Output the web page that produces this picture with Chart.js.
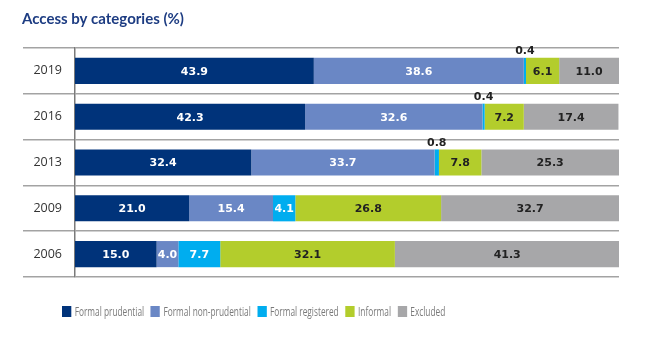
<!DOCTYPE html>
<html>
<head>
<meta charset="utf-8">
<script src="https://cdn.jsdelivr.net/npm/chart.js@4"></script>
<style>
  body { margin: 0; background: #fff; }
  #wrap { position: relative; width: 650px; height: 338px; }
  #legend {
    position: absolute; left: 62px; top: 303px;
    display: flex; align-items: center; white-space: nowrap;
    font: 12.5px "Open Sans", sans-serif; color: #7a7a7a;
    transform: scaleX(0.665); transform-origin: left center;
  }
  #legend span.item { display: flex; align-items: center; margin-right: 10px; }
  #legend span.box { width: 14px; height: 11px; margin-right: 5px; display: inline-block; }
</style>
</head>
<body>
<div id="wrap">
  <canvas id="grafica" width="650" height="338"></canvas>
  <div id="legend"></div>
</div>
<script>
const years = ['2019', '2016', '2013', '2009', '2006'];
const seriesNames = ['Formal prudential', 'Formal non-prudential', 'Formal registered', 'Informal', 'Excluded'];
const formalPrudential = [43.9, 42.3, 32.4, 21.0, 15.0];
const formalNonPrudential = [38.6, 32.6, 33.7, 15.4, 4.0];
const formalRegistered = [0.4, 0.4, 0.8, 4.1, 7.7];
const informal = [6.1, 7.2, 7.8, 26.8, 32.1];
const excluded = [11.0, 17.4, 25.3, 32.7, 41.3];

const colors = ['#00337a', '#6a87c5', '#00adef', '#b3cd2c', '#a7a7a9'];
const labelColors = ['#ffffff', '#ffffff', '#ffffff', '#222222', '#222222'];

const seriesValues = [formalPrudential, formalNonPrudential, formalRegistered, informal, excluded];

// etiquetas de valor dentro de cada segmento (las pequeñas van encima)
const valueLabels = {
  id: 'valueLabels',
  afterDatasetsDraw(chart) {
    const ctx = chart.ctx;
    ctx.save();
    ctx.font = 'bold 11px "DejaVu Sans"';
    ctx.textAlign = 'center';
    chart.data.datasets.forEach((ds, i) => {
      const meta = chart.getDatasetMeta(i);
      meta.data.forEach((bar, j) => {
        const v = ds.data[j];
        const p = bar.getProps(['x', 'y', 'base', 'height'], true);
        const cx = (p.x + p.base) / 2;
        if (v < 1) {
          ctx.fillStyle = '#222222';
          ctx.textBaseline = 'bottom';
          ctx.fillText(v.toFixed(1), cx, p.y - p.height / 2 - 1);
        } else {
          ctx.fillStyle = labelColors[i];
          ctx.textBaseline = 'middle';
          ctx.fillText(v.toFixed(1), cx, p.y + 1);
        }
      });
    });
    ctx.restore();
  }
};

new Chart(document.getElementById('grafica').getContext('2d'), {
  type: 'bar',
  data: {
    labels: years,
    datasets: seriesNames.map((name, i) => ({
      label: name,
      data: seriesValues[i],
      backgroundColor: colors[i],
      borderWidth: 0,
      barPercentage: 0.57,
      categoryPercentage: 1
    }))
  },
  options: {
    indexAxis: 'y',
    responsive: false,
    animation: false,
    layout: { padding: { left: 22, right: 31, bottom: 61, top: 0 } },
    scales: {
      x: { stacked: true, min: 0, max: 100, display: false },
      y: {
        stacked: true,
        afterFit(scale) { scale.width = 53; },
        border: { display: true, color: '#7a7a7a', width: 1.5 },
        grid: { color: '#a3a3a3', lineWidth: 1.5, tickLength: 52, drawOnChartArea: true },
        ticks: { padding: -39, color: '#333333', font: { family: 'Open Sans', size: 12.5 } }
      }
    },
    plugins: {
      legend: { display: false },
      tooltip: { enabled: false },
      title: {
        display: true,
        text: 'Access by categories (%)',
        align: 'start',
        color: '#1d3c82',
        font: { family: 'Lato', size: 15, weight: 'bold' },
        padding: { top: 10, bottom: 20 }
      }
    }
  },
  plugins: [valueLabels]
});

const legend = document.getElementById('legend');
seriesNames.forEach((name, i) => {
  legend.insertAdjacentHTML('beforeend',
    `<span class="item"><span class="box" style="background:${colors[i]}"></span>${name}</span>`);
});
</script>
</body>
</html>
